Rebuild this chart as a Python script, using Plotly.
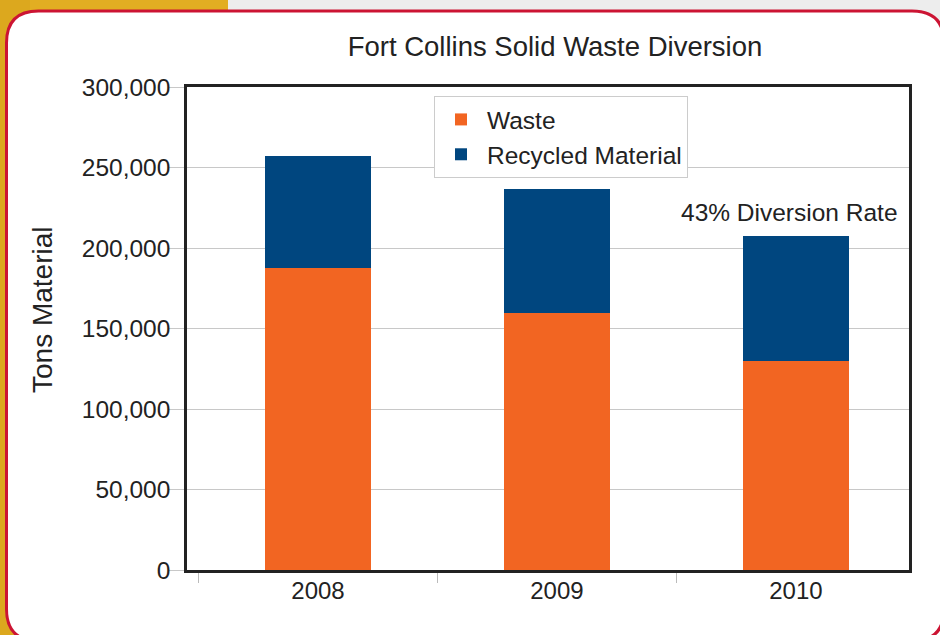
import plotly.graph_objects as go

years = ["2008", "2009", "2010"]
waste = [187600, 159600, 129800]
recycled = [69500, 77000, 77650]
series_names = ["Waste", "Recycled Material"]
title_text = "Fort Collins Solid Waste Diversion"
y_title = "Tons Material"
note_text = "43% Diversion Rate"
note_year = "2010"

W, H = 940, 635
L, R, T, B = 187, 909, 87, 570  # plot area pixels


def px(x):
    return (x - L) / (R - L)


def py(y):
    return (B - y) / (B - T)


FONT = "Liberation Sans, Arial, sans-serif"
TXT = "#222222"

fig = go.Figure()
fig.add_trace(go.Bar(x=years, y=waste, name=series_names[0],
                     marker=dict(color="#F26522", line=dict(width=0)), width=0.44))
fig.add_trace(go.Bar(x=years, y=recycled, name=series_names[1],
                     marker=dict(color="#00467F", line=dict(width=0)), width=0.44))

totals = [w + r for w, r in zip(waste, recycled)]
ni = years.index(note_year)


def rr_path(x0, y0, x1, y1, r):
    pts = [
        f"M{px(x0 + r)},{py(y0)}",
        f"L{px(x1 - r)},{py(y0)}",
        f"Q{px(x1)},{py(y0)} {px(x1)},{py(y0 + r)}",
        f"L{px(x1)},{py(y1 - r)}",
        f"Q{px(x1)},{py(y1)} {px(x1 - r)},{py(y1)}",
        f"L{px(x0 + r)},{py(y1)}",
        f"Q{px(x0)},{py(y1)} {px(x0)},{py(y1 - r)}",
        f"L{px(x0)},{py(y0 + r)}",
        f"Q{px(x0)},{py(y0)} {px(x0 + r)},{py(y0)}",
        "Z",
    ]
    return " ".join(pts)


shapes = [
    dict(type="rect", xref="paper", yref="paper", x0=px(0), x1=px(228), y0=py(0), y1=py(80),
         fillcolor="#E2AE22", line=dict(width=0), layer="below"),
    dict(type="rect", xref="paper", yref="paper", x0=px(0), x1=px(30), y0=py(0), y1=py(H),
         fillcolor="#DCA81E", line=dict(width=0), layer="below"),
    dict(type="rect", xref="paper", yref="paper", x0=px(228), x1=px(W), y0=py(0), y1=py(30),
         fillcolor="#EDEDED", line=dict(width=0), layer="below"),
    dict(type="path", xref="paper", yref="paper", path=rr_path(6.5, 11, 944, 641, 32),
         fillcolor="white", line=dict(color="#CC1433", width=3), layer="below"),
]

fig.update_layout(
    width=W, height=H,
    margin=dict(l=L, r=W - R, t=T, b=H - B, pad=0),
    paper_bgcolor="white",
    plot_bgcolor="rgba(0,0,0,0)",
    barmode="stack",
    font=dict(family=FONT, size=24, color=TXT),
    title=dict(text=title_text, x=px(555), xanchor="center", xref="paper",
               y=1 - 46 / H, yanchor="middle", font=dict(size=27.5, color=TXT)),
    showlegend=True,
    legend=dict(x=px(434), y=py(96), xanchor="left", yanchor="top",
                bgcolor="white", bordercolor="#CCCCCC", borderwidth=1,
                traceorder="normal", font=dict(size=24.5, color=TXT),
                itemwidth=42, tracegroupgap=0),
    shapes=shapes,
    xaxis=dict(type="category", range=[-0.548, 2.473], showgrid=False,
               showline=True, linecolor="#222222", linewidth=2.5, mirror=True,
               ticks="outside", tickson="boundaries", ticklen=10, tickcolor="#BBBBBB",
               ticklabelstandoff=-3,
               tickfont=dict(size=24, color=TXT)),
    yaxis=dict(range=[0, 300000], tickvals=[0, 50000, 100000, 150000, 200000, 250000, 300000],
               tickformat=",", showgrid=True, gridcolor="#C8C8C8", gridwidth=1,
               showline=True, linecolor="#222222", linewidth=2.5, mirror=True,
               ticks="outside", ticklen=15, tickcolor="#C8C8C8",
               ticklabelstandoff=-6,
               tickfont=dict(size=24.5, color=TXT), zeroline=False),
    annotations=[
        dict(x=ni, y=totals[ni], xref="x", yref="y", text=note_text,
             showarrow=False, yanchor="bottom", yshift=8, xshift=-6,
             font=dict(size=24.5, color=TXT)),
        dict(x=px(42), y=py(310), xref="paper", yref="paper", text=y_title,
             textangle=-90, showarrow=False, xanchor="center", yanchor="middle",
             font=dict(size=28, color=TXT)),
    ],
)

fig.write_html("out.html")
